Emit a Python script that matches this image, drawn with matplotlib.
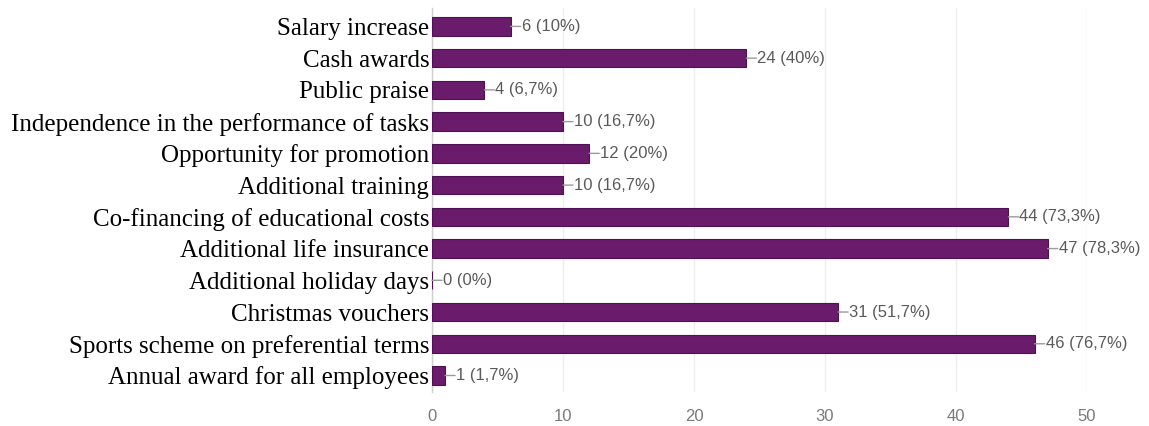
import matplotlib
matplotlib.use("Agg")
import matplotlib.pyplot as plt

categories = [
    "Salary increase",
    "Cash awards",
    "Public praise",
    "Independence in the performance of tasks",
    "Opportunity for promotion",
    "Additional training",
    "Co-financing of educational costs",
    "Additional life insurance",
    "Additional holiday days",
    "Christmas vouchers",
    "Sports scheme on preferential terms",
    "Annual award for all employees",
]
counts = [6, 24, 4, 10, 12, 10, 44, 47, 0, 31, 46, 1]
percents = [10, 40, 6.7, 16.7, 20, 16.7, 73.3, 78.3, 0, 51.7, 76.7, 1.7]
x_ticks = [0, 10, 20, 30, 40, 50]

W, H = 1149, 426
fig = plt.figure(figsize=(W / 100, H / 100), dpi=100)
ax = fig.add_axes([432 / W, (H - 392) / H, (1087 - 432) / W, (392 - 8) / H])

bar_color = "#6a1b6c"
edge_color = "#4e1250"
ypos = list(range(len(categories)))
ax.barh(ypos, counts, height=0.58, color=bar_color, edgecolor=edge_color,
        linewidth=0.8, zorder=3)


def pct_text(p):
    s = f"{p:.1f}".replace(".", ",")
    if s.endswith(",0"):
        s = s[:-2]
    return s + "%"


for y, c, p in zip(ypos, counts, percents):
    # short leader line from the bar end to its value label
    ax.annotate("", xy=(c, y), xytext=(10, 0), textcoords="offset pixels",
                xycoords="data",
                arrowprops=dict(arrowstyle="-", color="#9a9a9a", lw=1.0,
                                shrinkA=0, shrinkB=0),
                annotation_clip=False)
    ax.annotate(f"{c} ({pct_text(p)})", xy=(c, y), xytext=(11, 0),
                textcoords="offset pixels", va="center", ha="left",
                fontsize=12, family=["Liberation Sans", "DejaVu Sans"],
                color="#5a5a5a", annotation_clip=False)

ax.set_xlim(0, 50)
ax.set_ylim(11.52, -0.58)
ax.set_yticks(ypos)
ax.set_yticklabels(categories, family=["Liberation Serif", "DejaVu Serif"],
                   fontsize=18, color="#000000")
ax.tick_params(axis="y", length=0, pad=2)

ax.set_xticks(x_ticks)
ax.set_xticklabels([str(t) for t in x_ticks],
                   family=["Liberation Sans", "DejaVu Sans"],
                   fontsize=12, color="#7a7a7a")
ax.tick_params(axis="x", length=0, pad=12)

ax.grid(axis="x", color="#eeeeee", linewidth=1.0, zorder=0)
for side in ("top", "right", "bottom"):
    ax.spines[side].set_visible(False)
ax.spines["left"].set_color("#cfcfcf")
ax.spines["left"].set_linewidth(1.0)

fig.savefig("out.png", dpi=100)
